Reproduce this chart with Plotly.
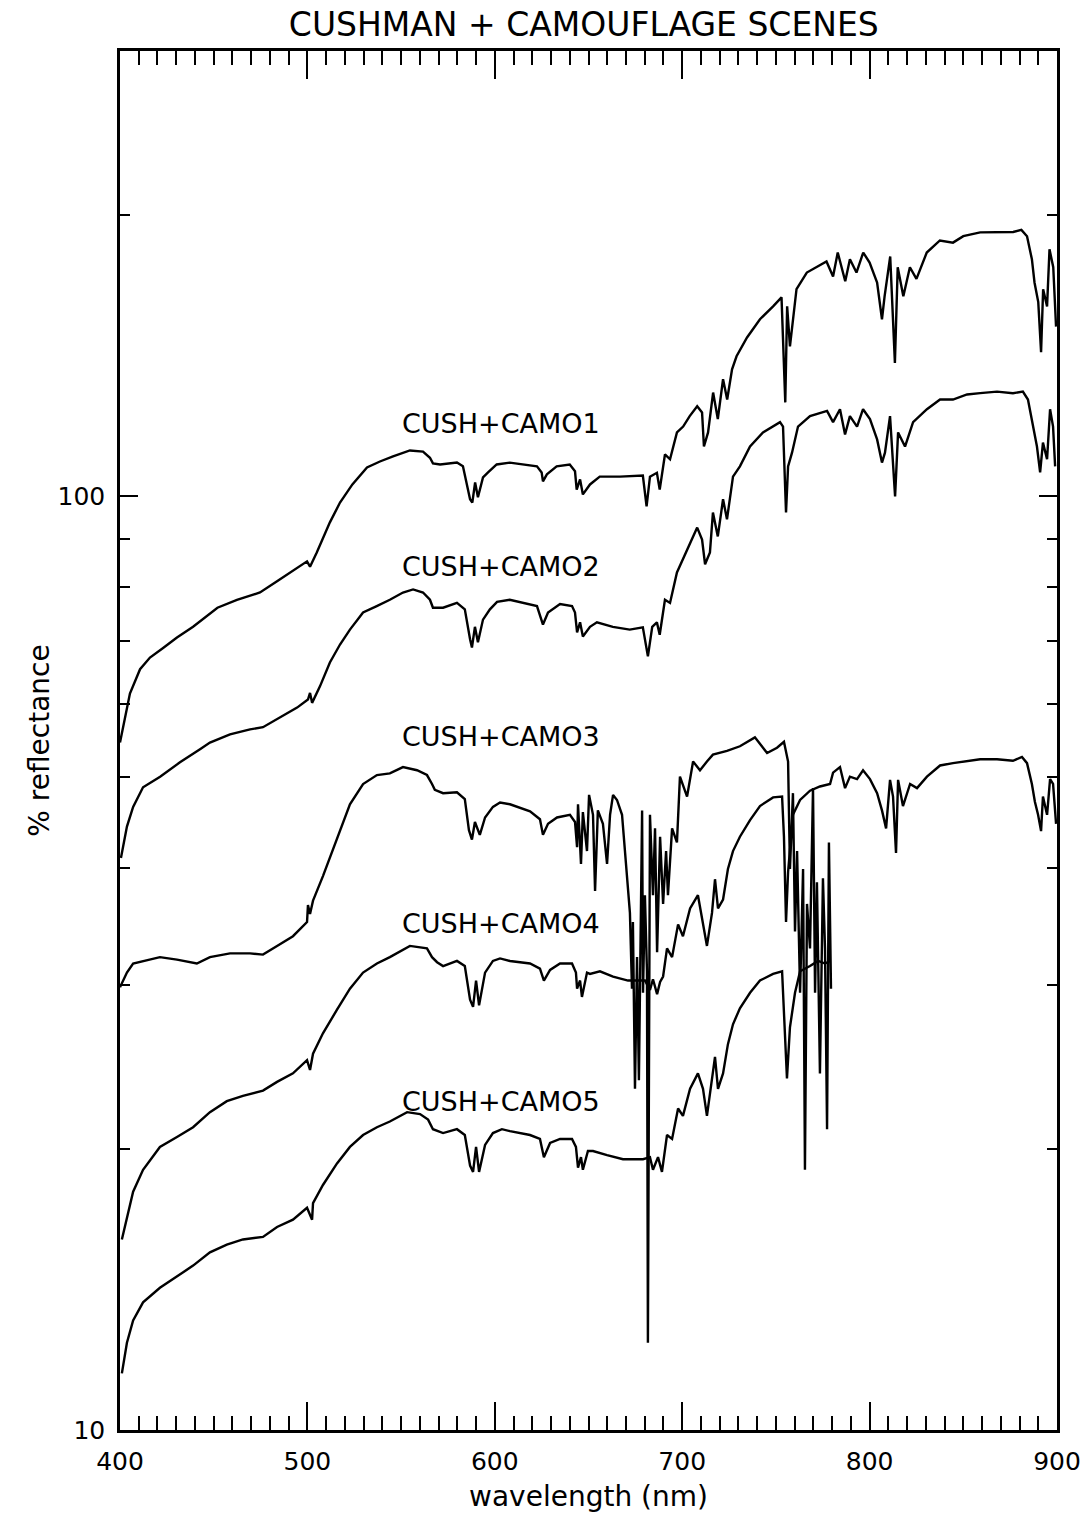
import math
import plotly.graph_objects as go

# ---------------- data (wavelength nm, % reflectance) ----------------
wl_camo1 = [400, 405.3, 410.7, 416, 423, 430.4, 439, 452, 462.4, 474.7, 483.8, 492, 499.8, 501.4, 505,
            512, 517.4, 524, 531.8, 538.7, 545.7, 554.7, 561.7, 565.4, 567, 570.8, 579.8, 583, 586.8, 588,
            589.5, 591, 593.7, 596.4, 601, 608, 622.5, 625, 625.7, 627.8, 633, 640, 642.8, 643.7, 645.5,
            647, 650.8, 656, 666.8, 679, 681, 682.8, 686.5, 688, 690.8, 693.5, 697.2, 700.5, 704, 708,
            710.6, 711.6, 713.8, 716.5, 719, 721.8, 724, 726.6, 729, 734.6, 741.5, 748.5, 753, 755, 756,
            757.5, 761, 766.5, 777, 780.5, 783, 787, 789.5, 793, 796.6, 800, 804, 806.6, 808, 811, 813.5,
            815, 818, 821.5, 825, 830.5, 837.5, 844.5, 850, 859, 868, 876.6, 881, 884, 886.6, 888, 890,
            891.5, 892.6, 894.7, 896, 898, 899.5]
refl_camo1 = [54.5, 61.5, 65.3, 67.2, 68.8, 70.6, 72.5, 76.0, 77.5, 78.9, 81.1, 83.1, 85.2, 84.1, 87.1,
              93.8, 98.5, 103.0, 107.4, 109.0, 110.4, 112.0, 111.7, 110.0, 108.5, 108.2, 108.7, 107.7, 99.3, 98.5,
              103.5, 99.8, 104.8, 106.1, 108.2, 108.7, 107.7, 106.1, 103.8, 105.6, 107.7, 108.2, 106.4, 101.7, 104.3,
              100.5, 103.0, 105.0, 105.0, 105.3, 97.6, 105.0, 106.0, 101.7, 110.9, 109.6, 117.1, 118.8, 121.9, 124.9,
              123.0, 113.1, 117.1, 129.2, 121.0, 133.5, 127.0, 136.8, 141.3, 148.0, 154.8, 159.8, 163.4, 126.1, 159.8,
              144.8, 166.7, 173.7, 178.5, 172.0, 182.5, 170.0, 179.5, 173.7, 182.5, 178.0, 169.5, 154.8, 163.8, 180.7, 139.0,
              176.0, 163.8, 176.0, 171.0, 182.5, 188.0, 187.0, 190.0, 191.8, 192.0, 192.0, 193.0, 190.0, 179.5, 169.5, 161.5,
              142.7, 166.7, 159.8, 184.0, 176.0, 152.0]

wl_camo2 = [400.5, 403.7, 407, 412.3, 421.4, 432, 442.7, 448, 458.7, 469.4, 476.3, 483.8, 494.5, 500.3, 501.4,
            502.5, 506.7, 512, 517.4, 522.7, 529.7, 537, 544, 551, 556.4, 561.7, 565.4, 567, 572.4, 579.8,
            584, 586.8, 587.8, 589.4, 591, 593.7, 597.4, 601.2, 608, 622.5, 625.7, 628.4, 634.8, 641.2, 642.8,
            643.9, 645.5, 647, 650.8, 654.5, 663, 672, 679, 681.7, 684, 686.5, 688, 690.8, 693.5, 697.2,
            700.4, 704.2, 708, 710.6, 712.2, 714.8, 716.4, 719, 721.8, 723.9, 727.1, 730.8, 736.2, 743.1, 752.2,
            753.8, 755.4, 756.5, 758.6, 761.8, 768.2, 777.3, 780.5, 784.2, 786.9, 789.5, 793.3, 796.5, 800.2, 804,
            806.6, 808.2, 810.9, 813.6, 815.2, 818.9, 823.2, 830.6, 837.6, 844.5, 852, 859, 868, 876.5, 881.8,
            884.5, 887.2, 889.3, 891, 892.5, 894.7, 896.3, 897.9, 899]
refl_camo2 = [41.0, 44.3, 46.5, 48.8, 50.1, 51.9, 53.6, 54.5, 55.6, 56.3, 56.6, 57.7, 59.4, 60.6, 61.6,
              60.1, 62.6, 66.4, 69.4, 72.0, 75.1, 76.3, 77.5, 78.9, 79.5, 78.9, 77.5, 76.0, 76.0, 76.9,
              75.7, 70.3, 68.9, 72.5, 69.8, 73.8, 75.7, 77.1, 77.5, 76.3, 72.9, 75.1, 76.7, 76.3, 75.1,
              71.5, 73.3, 70.8, 72.5, 73.3, 72.5, 72.0, 72.4, 67.4, 72.5, 73.3, 71.1, 77.5, 76.9, 82.9,
              85.6, 89.2, 92.6, 89.9, 84.6, 87.1, 96.1, 90.6, 99.3, 94.5, 105.0, 107.7, 113.1, 117.1, 120.1,
              118.8, 96.1, 107.7, 111.4, 118.8, 121.9, 123.5, 120.1, 124.0, 116.5, 121.9, 118.8, 124.0, 121.0, 115.1,
              108.7, 111.4, 121.9, 100.0, 117.1, 113.1, 120.1, 124.0, 127.0, 127.0, 128.6, 129.0, 129.5, 129.0, 129.5,
              127.0, 118.8, 113.1, 106.1, 114.2, 109.6, 124.0, 118.8, 107.7]

wl_camo3 = [400, 403.7, 407, 412.3, 421.3, 430.4, 441, 448, 458.7, 469.4, 476.3, 483.8, 492.3, 499.8, 500.3,
            501.4, 503, 508.3, 515.8, 522.7, 529.7, 537.1, 544, 551, 558.5, 563.8, 566.5, 568, 572.4, 579.8,
            584, 586.2, 587.8, 589.4, 592, 594.8, 599, 602.8, 608.1, 618.8, 624.1, 625.7, 628.4, 633.2, 640.1,
            642.8, 643.9, 644.4, 646, 647, 649.2, 650.3, 652.4, 653.5, 655, 657.7, 659.9, 661.5, 663.1, 665.2,
            667.9, 670.5, 672.1, 673.2, 673.7, 674.8, 675.9, 676.9, 678.6, 679.1, 680.1, 681.2, 681.7, 682.8, 684.4,
            685.5, 686.6, 688.2, 689.8, 691.4, 692.4, 694.6, 697.2, 698.8, 702.6, 705.8, 709.5, 713.2, 716.4, 723.9,
            730.8, 738.8, 745.3, 750.6, 754.3, 756.5, 757.5, 759.1, 760.2, 761.3, 762.9, 764.5, 765.5, 766.6, 768.2,
            769.8, 770.9, 771.9, 773.5, 775.1, 776.2, 777.3, 778.3, 779.4]
refl_camo3 = [29.8, 30.9, 31.6, 31.8, 32.1, 31.9, 31.6, 32.1, 32.4, 32.4, 32.3, 33.0, 33.8, 35.0, 36.5,
              35.7, 36.9, 39.2, 43.0, 46.8, 49.2, 50.3, 50.5, 51.3, 50.9, 50.3, 49.2, 48.5, 48.1, 48.2,
              47.4, 43.9, 42.9, 44.8, 43.4, 45.3, 46.5, 47.0, 46.8, 46.0, 45.1, 43.4, 44.6, 45.3, 45.6,
              44.8, 42.1, 46.8, 40.4, 45.9, 41.7, 47.9, 45.6, 37.8, 46.1, 44.6, 40.4, 45.6, 47.9, 47.3,
              45.6, 39.6, 35.8, 29.7, 35.0, 23.2, 32.1, 23.7, 46.1, 29.4, 37.4, 31.0, 12.4, 45.6, 37.4,
              44.1, 32.5, 43.2, 36.6, 41.7, 37.4, 44.1, 42.6, 50.1, 47.7, 52.0, 50.9, 52.0, 52.9, 53.4,
              54.0, 55.2, 53.1, 53.8, 54.6, 52.0, 39.9, 48.1, 34.2, 41.7, 29.4, 39.9, 19.0, 36.6, 32.8,
              48.7, 29.4, 38.6, 24.1, 39.0, 32.8, 21.0, 42.6, 29.7]

wl_camo4 = [401, 403.7, 407, 412.3, 421.3, 430.4, 439, 448, 457, 465.6, 476.3, 483.8, 492.3, 499.8, 501.4,
            503, 508.3, 515.8, 522.7, 529.7, 537.1, 544, 554.7, 563.8, 566.5, 569.2, 572.4, 579.8, 584, 586.8,
            588.4, 590, 591.6, 594.8, 599, 602.8, 608.1, 618.8, 624.1, 626.2, 629.5, 634.8, 641.2, 643.3, 643.9,
            645.5, 646.5, 649.2, 650.8, 656.1, 663.1, 671.1, 680.1, 682.8, 684.4, 686.6, 688.2, 689.8, 691.9, 694.6,
            697.8, 700.4, 704.2, 708.4, 711.1, 713.2, 715.9, 717.5, 719.1, 721.8, 724.4, 727.1, 730.8, 736.2, 741.5,
            748.5, 753.3, 754.3, 755.4, 756.5, 759.1, 762.9, 768.2, 773.5, 778.9, 780.5, 784.2, 786.9, 789.5, 793.3,
            796.5, 800.2, 804, 806.6, 808.8, 810.9, 812.5, 814.1, 815.2, 817.8, 821.6, 825.3, 830.6, 837.6, 844.5,
            852, 859, 868, 876.5, 881.3, 884, 886.6, 888.2, 889.9, 891.5, 892.5, 894.7, 896.3, 897.9, 899.5]
refl_camo4 = [16.0, 16.9, 18.0, 19.0, 20.1, 20.6, 21.1, 21.9, 22.5, 22.8, 23.1, 23.6, 24.1, 24.9, 24.3,
              25.3, 26.6, 28.2, 29.7, 30.9, 31.6, 32.1, 33.0, 32.8, 32.1, 31.7, 31.4, 31.8, 31.4, 28.9,
              28.4, 30.3, 28.5, 30.9, 31.8, 32.0, 31.8, 31.6, 31.2, 30.3, 31.1, 31.6, 31.6, 30.9, 29.7,
              30.3, 29.1, 30.9, 30.8, 31.0, 30.6, 30.3, 30.3, 29.6, 30.4, 29.3, 30.2, 30.6, 32.8, 32.1,
              34.8, 33.8, 36.2, 37.4, 35.0, 33.0, 35.8, 38.9, 36.2, 37.0, 39.9, 41.7, 43.2, 45.0, 46.6,
              47.6, 47.7, 43.2, 35.0, 39.6, 45.6, 47.3, 48.4, 48.9, 49.2, 50.6, 51.3, 48.7, 50.1, 49.8,
              50.9, 49.8, 48.1, 46.1, 44.1, 49.7, 47.7, 41.5, 49.7, 46.6, 49.2, 48.7, 50.1, 51.5, 51.8,
              52.1, 52.3, 52.3, 52.1, 52.6, 51.8, 49.2, 47.1, 45.6, 43.8, 47.7, 45.6, 49.8, 49.2, 44.6]

wl_camo5 = [401, 403.7, 407, 412.3, 421.3, 430.4, 439, 448, 457, 465.6, 476.3, 483.8, 492.3, 499.8, 502.5,
            503, 508.3, 515.8, 522.7, 529.7, 537.1, 544, 553.2, 560.1, 564.4, 567, 572.4, 579.8, 584, 586.8,
            588.4, 590, 591.6, 594.8, 599, 603.8, 608.1, 618.8, 624.1, 626.2, 629.5, 634.8, 641.2, 643.3, 644.4,
            646, 647, 649.7, 652.4, 659.9, 668.4, 679.1, 682.8, 684.4, 687.1, 689.2, 691.9, 694.6, 697.8, 700.4,
            704.2, 708.4, 711.1, 713.2, 715.9, 717.5, 719.1, 721.8, 724.4, 727.1, 730.8, 736.2, 741.5, 748.5, 753.3,
            754.3, 755.9, 757.5, 760.2, 762.9, 768.2, 772.5, 776.2, 779]
refl_camo5 = [11.5, 12.4, 13.1, 13.7, 14.2, 14.6, 15.0, 15.5, 15.8, 16.0, 16.1, 16.5, 16.8, 17.3, 16.8,
              17.5, 18.3, 19.3, 20.1, 20.7, 21.1, 21.4, 21.9, 21.8, 21.5, 21.0, 20.8, 21.0, 20.7, 19.2,
              18.9, 20.1, 18.9, 20.2, 20.8, 21.0, 20.9, 20.7, 20.5, 19.6, 20.3, 20.5, 20.5, 20.1, 19.1,
              19.6, 19.0, 19.9, 19.9, 19.7, 19.5, 19.5, 19.6, 19.0, 19.6, 18.9, 20.7, 20.5, 22.1, 21.7,
              23.2, 24.1, 23.2, 21.7, 23.7, 25.1, 23.2, 24.1, 25.9, 27.2, 28.3, 29.4, 30.3, 30.8, 31.0,
              27.5, 23.8, 27.0, 29.4, 31.0, 31.4, 31.8, 31.6, 31.8]

series_names = ["CUSH+CAMO1", "CUSH+CAMO2", "CUSH+CAMO3", "CUSH+CAMO4", "CUSH+CAMO5"]
label_wl = [549.5, 549.5, 549.5, 549.5, 549.5]
label_refl = [119.7, 84.1, 55.3, 34.9, 22.5]

x_tick_vals = [400, 500, 600, 700, 800, 900]
x_tick_text = ["400", "500", "600", "700", "800", "900"]
y_tick_vals = [10, 100]
y_tick_text = ["10", "100"]
y_minor_vals = [20, 30, 40, 50, 60, 70, 80, 90, 200, 300]

FONT = "DejaVu Sans"

fig = go.Figure()
all_wl = [wl_camo1, wl_camo2, wl_camo3, wl_camo4, wl_camo5]
all_refl = [refl_camo1, refl_camo2, refl_camo3, refl_camo4, refl_camo5]
for name, wl, refl in zip(series_names, all_wl, all_refl):
    fig.add_trace(go.Scatter(x=wl, y=refl, mode="lines", name=name,
                             line=dict(color="black", width=2.4), showlegend=False))

for name, lx, ly in zip(series_names, label_wl, label_refl):
    fig.add_annotation(x=lx, y=math.log10(ly), xref="x", yref="y", text=name,
                       showarrow=False, xanchor="left", yanchor="middle",
                       font=dict(family=FONT, size=27, color="black"))

fig.update_layout(
    width=1091, height=1516,
    margin=dict(l=120, r=34, t=51, b=86, pad=0, autoexpand=False),
    paper_bgcolor="white", plot_bgcolor="white",
    showlegend=False,
    font=dict(family=FONT, color="black", size=25),
    title=dict(text="CUSHMAN + CAMOUFLAGE SCENES", x=0.495, xref="paper", xanchor="center",
               y=1 - 24 / 1516, yref="container", yanchor="middle",
               font=dict(family=FONT, size=33, color="black")),
    xaxis=dict(range=[400, 900], showline=True, linecolor="black", linewidth=2.5, mirror="ticks",
               automargin=False,
               ticks="inside", ticklen=28, tickwidth=2, tickcolor="black",
               tickmode="array", tickvals=x_tick_vals, ticktext=x_tick_text,
               tickfont=dict(family=FONT, size=25, color="black"), ticklabelstandoff=7,
               showgrid=False, zeroline=False,
               minor=dict(ticks="inside", ticklen=14, tickwidth=2, tickcolor="black",
                          tickmode="linear", tick0=400, dtick=10, showgrid=False),
               title=dict(text="wavelength (nm)", standoff=12,
                          font=dict(family=FONT, size=28, color="black"))),
    yaxis=dict(type="log", range=[1, math.log10(300)], showline=True, linecolor="black", linewidth=2.5,
               automargin=False,
               mirror="ticks", ticks="inside", ticklen=18, tickwidth=2, tickcolor="black",
               tickmode="array", tickvals=y_tick_vals, ticktext=y_tick_text,
               tickfont=dict(family=FONT, size=25, color="black"), ticklabelstandoff=7,
               showgrid=False, zeroline=False,
               minor=dict(ticks="inside", ticklen=10, tickwidth=2, tickcolor="black",
                          tickmode="array", tickvals=y_minor_vals, showgrid=False),
               title=dict(text="% reflectance", standoff=0,
                          font=dict(family=FONT, size=28, color="black"))),
)

fig.write_html("out.html")
